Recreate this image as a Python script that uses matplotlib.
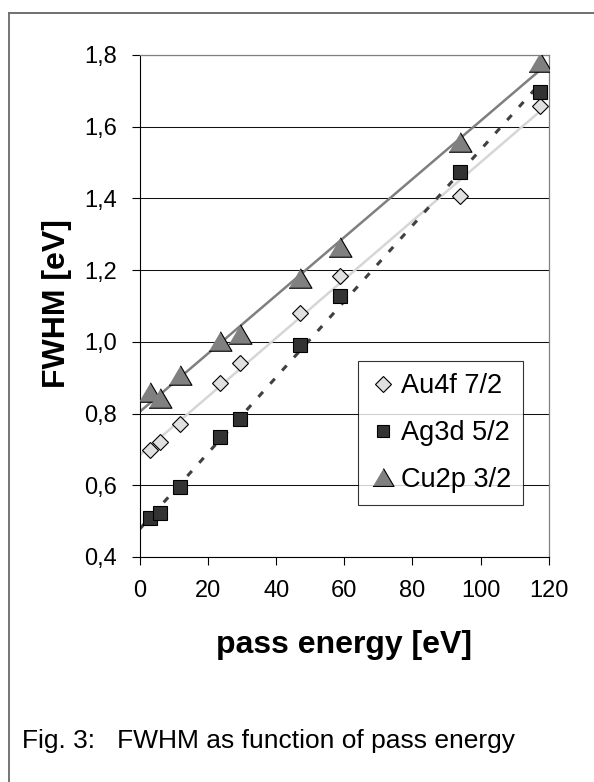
import numpy as np
import matplotlib
matplotlib.use("Agg")
import matplotlib.pyplot as plt
from matplotlib.lines import Line2D

plt.rcParams['font.family'] = ['Liberation Sans', 'DejaVu Sans']

pass_energy = [2.95, 5.85, 11.75, 23.5, 29.35, 46.95, 58.7, 93.9, 117.4]
au4f = [0.698, 0.722, 0.771, 0.884, 0.942, 1.080, 1.184, 1.407, 1.658]
ag3d = [0.508, 0.524, 0.594, 0.734, 0.784, 0.991, 1.128, 1.475, 1.698]
cu2p = [0.861, 0.843, 0.907, 1.003, 1.022, 1.177, 1.265, 1.556, 1.781]
labels = ['Au4f 7/2', 'Ag3d 5/2', 'Cu2p 3/2']
xticks = [0, 20, 40, 60, 80, 100, 120]
yticks = [0.4, 0.6, 0.8, 1.0, 1.2, 1.4, 1.6, 1.8]

W, H = 594, 782
fig = plt.figure(figsize=(W/100, H/100), dpi=100)
ax = fig.add_axes([140/W, 1-557/H, 408.7/W, 502/H])

x = np.array(pass_energy)
xfit = np.linspace(0, x.max(), 100)

# linear trendlines
for ys, col, ls, lw in [(au4f, '#d6d6d6', '-', 1.8),
                        (ag3d, '#404040', (0, (2.2, 3.6)), 2.2),
                        (cu2p, '#7f7f7f', '-', 1.8)]:
    p = np.polyfit(x, ys, 1)
    ax.plot(xfit, np.polyval(p, xfit), color=col, ls=ls, lw=lw, zorder=2, solid_capstyle='butt')

tri = [(-1, -0.85), (1, -0.85), (0, 0.85)]
ax.plot(x, au4f, 'D', ms=8.5, mfc='#e0e0e0', mec='black', mew=0.8, ls='none', label=labels[0], zorder=4)
ax.plot(x, ag3d, 's', ms=9.5, mfc='#333333', mec='black', mew=0.8, ls='none', label=labels[1], zorder=4)
ax.plot(x, cu2p, marker=tri, ms=16.5, mfc='#808080', mec='black', mew=0.8, ls='none', label=labels[2], zorder=5)

ax.set_xlim(0, 120)
ax.set_ylim(0.4, 1.8)
ax.set_xticks(xticks)
ax.set_yticks(yticks)
ax.set_yticklabels([f"{v:.1f}".replace('.', ',') for v in yticks])
ax.tick_params(axis='both', labelsize=17, direction='out', length=5.5, width=0.8, color='black')
ax.tick_params(axis='y', pad=11)
ax.tick_params(axis='x', pad=11)
ax.grid(axis='y', color='#111111', lw=0.75)
ax.set_axisbelow(True)
for s in ['left', 'bottom']:
    ax.spines[s].set_color('black')
    ax.spines[s].set_linewidth(0.8)
for s in ['right', 'top']:
    ax.spines[s].set_color('#808080')
    ax.spines[s].set_linewidth(0.9)

ax.set_xlabel('pass energy [eV]', fontsize=23, fontweight='bold')
ax.xaxis.set_label_coords(0.5, (557-645)/502)
ax.xaxis.label.set_va('center')
ax.set_ylabel('FWHM [eV]', fontsize=23, fontweight='bold')
ax.yaxis.set_label_coords((57-140)/408.7, (557-303.5)/502)
ax.yaxis.label.set_va('center')

leg = ax.legend(loc='upper left', bbox_to_anchor=((358.3-140)/408.7, (557-361)/502, (522.7-358.3)/408.7, 0),
                mode='expand', fontsize=19.5, frameon=True, fancybox=False, edgecolor='black',
                borderaxespad=0, labelspacing=0.76, handletextpad=0.2, handlelength=0.9,
                borderpad=0.46, markerscale=0.92)
leg.get_frame().set_linewidth(0.8)

fig.text(22/W, 1-748/H, 'Fig. 3:   FWHM as function of pass energy', fontsize=19, va='baseline', ha='left')

fig.add_artist(Line2D([9.3/W, 9.3/W], [0, 1-13.3/H], color='#505050', lw=1.1, transform=fig.transFigure))
fig.add_artist(Line2D([9.3/W, 1], [1-13.3/H, 1-13.3/H], color='#707070', lw=1.4, transform=fig.transFigure))

fig.savefig('out.png', dpi=100)
